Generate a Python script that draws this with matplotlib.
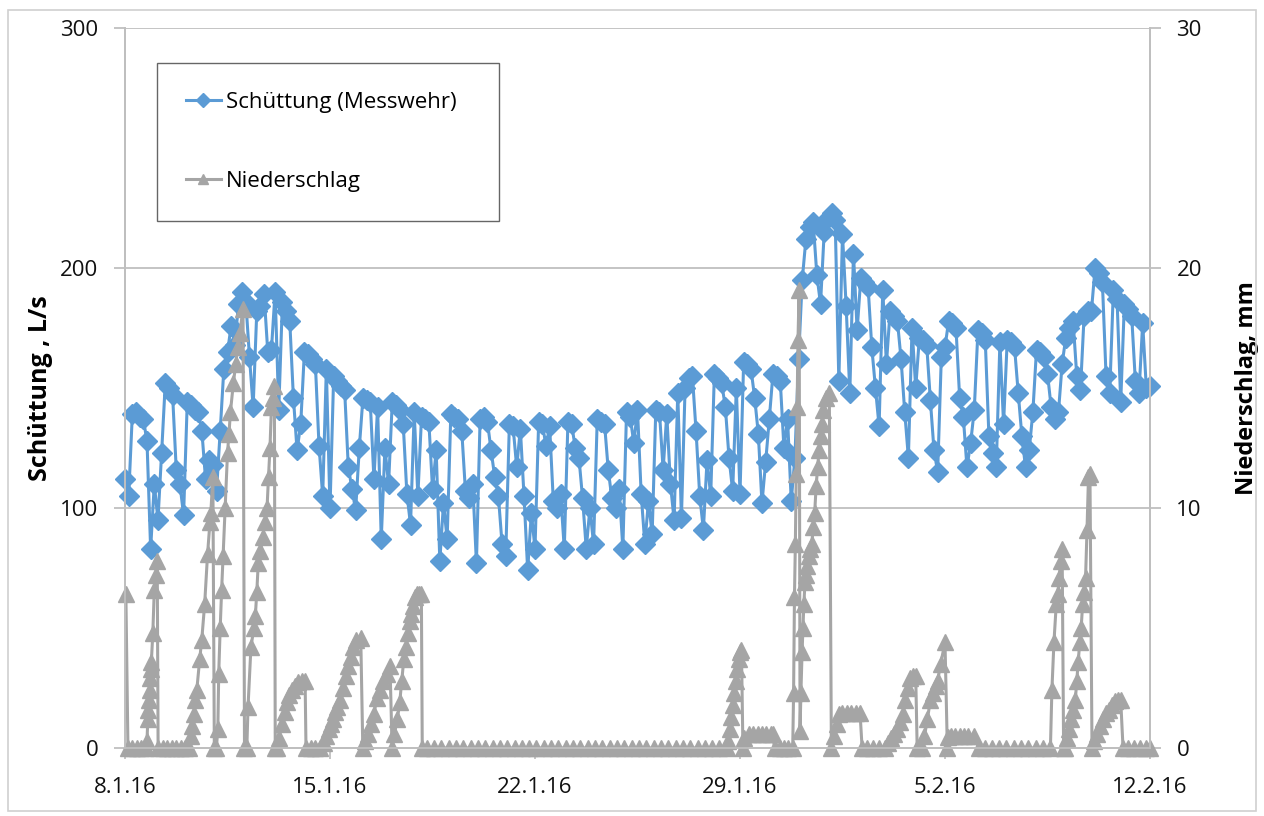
import pandas as pd
import matplotlib.pyplot as plt
from matplotlib.patches import Rectangle

plt.rcParams['font.family'] = ['Open Sans', 'DejaVu Sans']

start = pd.Timestamp("2016-01-08")

# Schüttung am Messwehr (L/s), alle 3 Stunden ab 8.1.16 00:00
flow_ls = [
    112, 105, 139, 140, 138, 137, 128, 83,
    110, 95, 123, 152, 150, 147, 116, 110,
    97, 144, 143, 141, 140, 132, 112, 120,
    118, 107, 132, 158, 165, 176, 168, 185,
    190, 186, 163, 142, 182, 184, 189, 165,
    166, 190, 141, 186, 182, 178, 146, 124,
    135, 165, 164, 162, 160, 126, 105, 158,
    100, 155, 153, 151, 149, 117, 108, 99,
    125, 146, 145, 144, 112, 142, 87, 125,
    110, 144, 143, 141, 135, 106, 93, 140,
    105, 138, 137, 136, 108, 124, 78, 102,
    87, 139, 138, 137, 132, 107, 104, 110,
    77, 137, 138, 136, 124, 113, 105, 85,
    80, 135, 134, 117, 133, 105, 74, 98,
    83, 136, 135, 126, 134, 103, 100, 106,
    83, 136, 135, 125, 121, 104, 83, 100,
    85, 137, 136, 135, 116, 104, 100, 108,
    83, 140, 138, 127, 141, 106, 85, 103,
    89, 141, 140, 116, 139, 110, 95, 148,
    96, 150, 154, 155, 132, 105, 91, 120,
    105, 156, 154, 152, 142, 121, 107, 150,
    106, 161, 160, 158, 146, 131, 102, 119,
    137, 156, 155, 153, 125, 137, 103, 121,
    162, 195, 212, 217, 219, 197, 185, 215,
    221, 223, 220, 153, 214, 184, 148, 206,
    174, 196, 194, 192, 167, 150, 134, 191,
    160, 182, 180, 178, 162, 140, 121, 175,
    150, 171, 170, 168, 145, 124, 115, 163,
    167, 178, 177, 175, 146, 138, 117, 127,
    141, 174, 173, 170, 130, 123, 117, 169,
    135, 170, 169, 167, 148, 130, 117, 124,
    140, 166, 165, 163, 156, 142, 137, 140,
    160, 171, 175, 178, 155, 149, 180, 182,
    182, 200, 198, 194, 155, 148, 191, 187,
    144, 185, 183, 180, 153, 148, 177, 150,
    151,
]

# Niederschlag: Zeitpunkt (Tage ab 8.1.16) und Summe je Ereignis (mm)
rain_day = [
    0.03, 0.1, 0.25, 0.4, 0.55, 0.7,
    0.75, 0.78, 0.8, 0.82, 0.84, 0.86, 0.88, 0.9, 0.95, 1.0, 1.05, 1.1, 1.13,
    1.3, 1.45, 1.6, 1.75, 1.9, 2.05, 2.2,
    2.25, 2.3, 2.35, 2.4, 2.45, 2.55, 2.62, 2.72, 2.82, 2.9, 2.93, 3.0, 3.05,
    3.12, 3.17, 3.2, 3.25, 3.3, 3.35, 3.42, 3.5, 3.55, 3.6, 3.7, 3.78, 3.85, 3.92, 4.03, 4.08,
    4.16, 4.2, 4.3, 4.4, 4.45, 4.5, 4.55, 4.62, 4.7, 4.78, 4.85, 4.9, 4.95, 5.0, 5.05, 5.1, 5.13, 5.2,
    5.25, 5.35, 5.45, 5.52, 5.6, 5.7, 5.8, 5.92, 6.05, 6.15, 6.18, 6.35, 6.5, 6.65,
    6.8, 6.88, 6.95, 7.02, 7.1, 7.18, 7.25, 7.35, 7.45, 7.55, 7.6, 7.7, 7.8, 7.9, 8.05, 8.12,
    8.2, 8.3, 8.4, 8.5, 8.6, 8.7, 8.8, 8.95, 9.05, 9.12,
    9.2, 9.3, 9.38, 9.45, 9.52, 9.6, 9.66, 9.72, 9.78, 9.84, 9.9, 9.97, 10.05, 10.12, 10.15,
    10.3, 10.55, 10.8, 11.05, 11.3, 11.55, 11.8, 12.05, 12.3, 12.55, 12.8, 13.05, 13.3, 13.55,
    13.8, 14.05, 14.3, 14.55, 14.8, 15.05, 15.3, 15.55, 15.8, 16.05, 16.3, 16.55, 16.8, 17.05,
    17.3, 17.55, 17.8, 18.05, 18.3, 18.55, 18.8, 19.05, 19.3, 19.55, 19.8, 20.05, 20.3, 20.55,
    20.6, 20.65, 20.7, 20.75, 20.8, 20.85, 20.9, 20.95, 21.0, 21.05, 21.1,
    21.15, 21.3, 21.45, 21.6, 21.75, 21.9, 22.05, 22.12, 22.18, 22.35, 22.5, 22.65, 22.8,
    22.83, 22.86, 22.89, 22.92, 22.95, 22.98, 23.02, 23.05, 23.08, 23.12, 23.15, 23.18, 23.22,
    23.26, 23.3, 23.35, 23.4, 23.45, 23.5, 23.55, 23.6, 23.65, 23.7, 23.75, 23.8, 23.85, 23.92,
    24.05, 24.12,
    24.2, 24.3, 24.38, 24.5, 24.65, 24.8, 24.95, 25.1, 25.17, 25.35, 25.55, 25.75, 25.95,
    26.05, 26.15, 26.25, 26.35, 26.45, 26.55, 26.65, 26.72, 26.8, 26.9, 27.0, 27.05,
    27.2, 27.3, 27.4, 27.5, 27.6, 27.68, 27.75, 27.85, 28.0, 28.08,
    28.1, 28.2, 28.35, 28.5, 28.65, 28.8, 29.0, 29.15,
    29.35, 29.6, 29.85, 30.1, 30.35, 30.6, 30.85, 31.1, 31.35, 31.6,
    31.65, 31.72, 31.8, 31.85, 31.9, 31.95, 32.0, 32.05,
    32.1, 32.15, 32.22, 32.3, 32.38, 32.45, 32.5, 32.55, 32.6, 32.65, 32.7, 32.75, 32.8, 32.85,
    32.9, 32.95, 33.02,
    33.1, 33.2, 33.3, 33.4, 33.5, 33.6, 33.7, 33.8, 33.9, 34.0, 34.08, 34.25, 34.45, 34.65,
    34.85, 35.0,
]
rain_mm = [
    6.4, 0, 0, 0, 0, 0,
    0.3, 1.2, 1.6, 2.0, 2.4, 2.9, 3.3, 3.6, 4.8, 6.6, 7.2, 7.8, 0,
    0, 0, 0, 0, 0, 0, 0,
    0.5, 0.9, 1.4, 2.0, 2.4, 3.7, 4.5, 6.0, 8.1, 9.4, 9.8, 11.3, 0,
    0, 0.8, 3.1, 5.0, 6.6, 8.0, 10.0, 12.3, 13.1, 14.0, 15.2, 16.0, 16.7, 17.3, 18.3, 0,
    0, 1.7, 4.2, 5.0, 5.5, 6.5, 7.7, 8.2, 8.8, 9.4, 10.0, 11.3, 12.5, 14.2, 14.6, 15.1, 0, 0,
    0.4, 1.0, 1.5, 1.9, 2.2, 2.4, 2.6, 2.75, 2.8, 2.8, 0, 0, 0, 0,
    0.2, 0.5, 0.8, 1.0, 1.2, 1.5, 1.7, 2.0, 2.5, 3.0, 3.4, 3.8, 4.2, 4.5, 4.6, 0,
    0.3, 0.6, 1.0, 1.4, 2.1, 2.4, 2.8, 3.1, 3.4, 0,
    0.6, 1.2, 1.9, 2.8, 3.7, 4.2, 4.8, 5.3, 5.6, 5.9, 6.3, 6.4, 6.4, 6.4, 0,
    0, 0, 0, 0, 0, 0, 0, 0, 0, 0, 0, 0, 0, 0,
    0, 0, 0, 0, 0, 0, 0, 0, 0, 0, 0, 0, 0, 0,
    0, 0, 0, 0, 0, 0, 0, 0, 0, 0, 0, 0, 0, 0,
    0.3, 0.8, 1.3, 1.8, 2.3, 2.8, 3.3, 3.7, 4.0, 4.1, 0,
    0.4, 0.6, 0.6, 0.6, 0.6, 0.6, 0.6, 0.6, 0, 0, 0, 0, 0,
    2.3, 6.3, 8.5, 11.4, 14.2, 17.0, 19.1, 0.7, 2.3, 4.0, 5.0, 6.0, 6.9,
    7.2, 7.6, 8.0, 8.3, 8.5, 9.2, 9.8, 10.9, 11.7, 12.4, 13.0, 13.5, 14.1, 14.6,
    14.8, 0,
    0.5, 1.0, 1.4, 1.45, 1.45, 1.45, 1.45, 1.45, 0, 0, 0, 0, 0,
    0.2, 0.4, 0.6, 0.8, 1.1, 1.4, 2.0, 2.5, 2.9, 3.0, 3.0, 0,
    0, 0.5, 1.2, 2.0, 2.3, 2.6, 2.8, 3.5, 4.4, 0,
    0.45, 0.5, 0.5, 0.5, 0.5, 0.5, 0.5, 0,
    0, 0, 0, 0, 0, 0, 0, 0, 0, 0,
    2.4, 4.4, 6.0, 6.4, 7.1, 7.8, 8.3, 0,
    0, 0.4, 0.8, 1.2, 1.6, 2.0, 2.8, 3.6, 4.4, 5.0, 6.0, 6.5, 7.1, 9.1,
    11.3, 11.4, 0,
    0.3, 0.6, 0.9, 1.2, 1.45, 1.6, 1.8, 1.95, 2.0, 2.0, 0, 0, 0, 0,
    0, 0,
]

tick_dates = ["2016-01-08", "2016-01-15", "2016-01-22", "2016-01-29", "2016-02-05", "2016-02-12"]
tick_labels = ["8.1.16", "15.1.16", "22.1.16", "29.1.16", "5.2.16", "12.2.16"]

flow_time = pd.date_range(start, periods=len(flow_ls), freq="3h")
rain_time = start + pd.to_timedelta(rain_day, unit="D")

blue = '#5B9BD5'
grey = '#A5A5A5'
axis_grey = '#BFBFBF'

fig = plt.figure(figsize=(12.64, 8.16), dpi=100)
ax = fig.add_axes([0.0989, 0.0833, 0.8109, 0.8824])

l1, = ax.plot(flow_time, flow_ls, color=blue, marker='D', markersize=10, lw=2.2,
              clip_on=False, label='Schüttung (Messwehr)')
ax.set_ylim(0, 300)
ax.set_yticks([0, 100, 200, 300])
ax.set_xlim(start, pd.Timestamp("2016-02-12"))
ax.set_xticks(pd.to_datetime(tick_dates))
ax.set_xticklabels(tick_labels)
ax.grid(axis='y', color=axis_grey, lw=1.3)
ax.set_axisbelow(True)
ax.set_ylabel('Schüttung , L/s', fontsize=18, fontweight='bold', labelpad=5)

ax2 = ax.twinx()
l2, = ax2.plot(rain_time, rain_mm, color=grey, marker='^', markersize=11, lw=2.2,
               clip_on=False, label='Niederschlag')
ax2.set_ylim(0, 30)
ax2.set_yticks([0, 10, 20, 30])
ax2.set_ylabel('Niederschlag, mm', fontsize=17, fontweight='bold', labelpad=24)

for a in (ax, ax2):
    a.spines['top'].set_visible(False)
    for s in ('left', 'right', 'bottom'):
        a.spines[s].set_color(axis_grey)
        a.spines[s].set_linewidth(1.3)
    a.tick_params(axis='both', length=8, width=1.3, color=axis_grey,
                  labelsize=16, labelcolor='#111111', pad=11)
ax.tick_params(axis='x', pad=13)

leg = ax2.legend(handles=[l1, l2], loc='upper left', mode='expand',
                 bbox_to_anchor=(0.031, 0.735, 0.334, 0.216),
                 fontsize=16, frameon=True, fancybox=False, edgecolor='#404040',
                 labelspacing=2.6, borderpad=1.3, handlelength=1.6, handletextpad=0.2,
                 borderaxespad=0)
leg.get_frame().set_linewidth(1.0)
for h in leg.legend_handles:
    h.set_markersize(7)

fig.patches.append(Rectangle((0.006, 0.006), 0.988, 0.982, transform=fig.transFigure,
                             fill=False, edgecolor='#D0D0D0', lw=1.2))

fig.savefig('out.png', dpi=100)
